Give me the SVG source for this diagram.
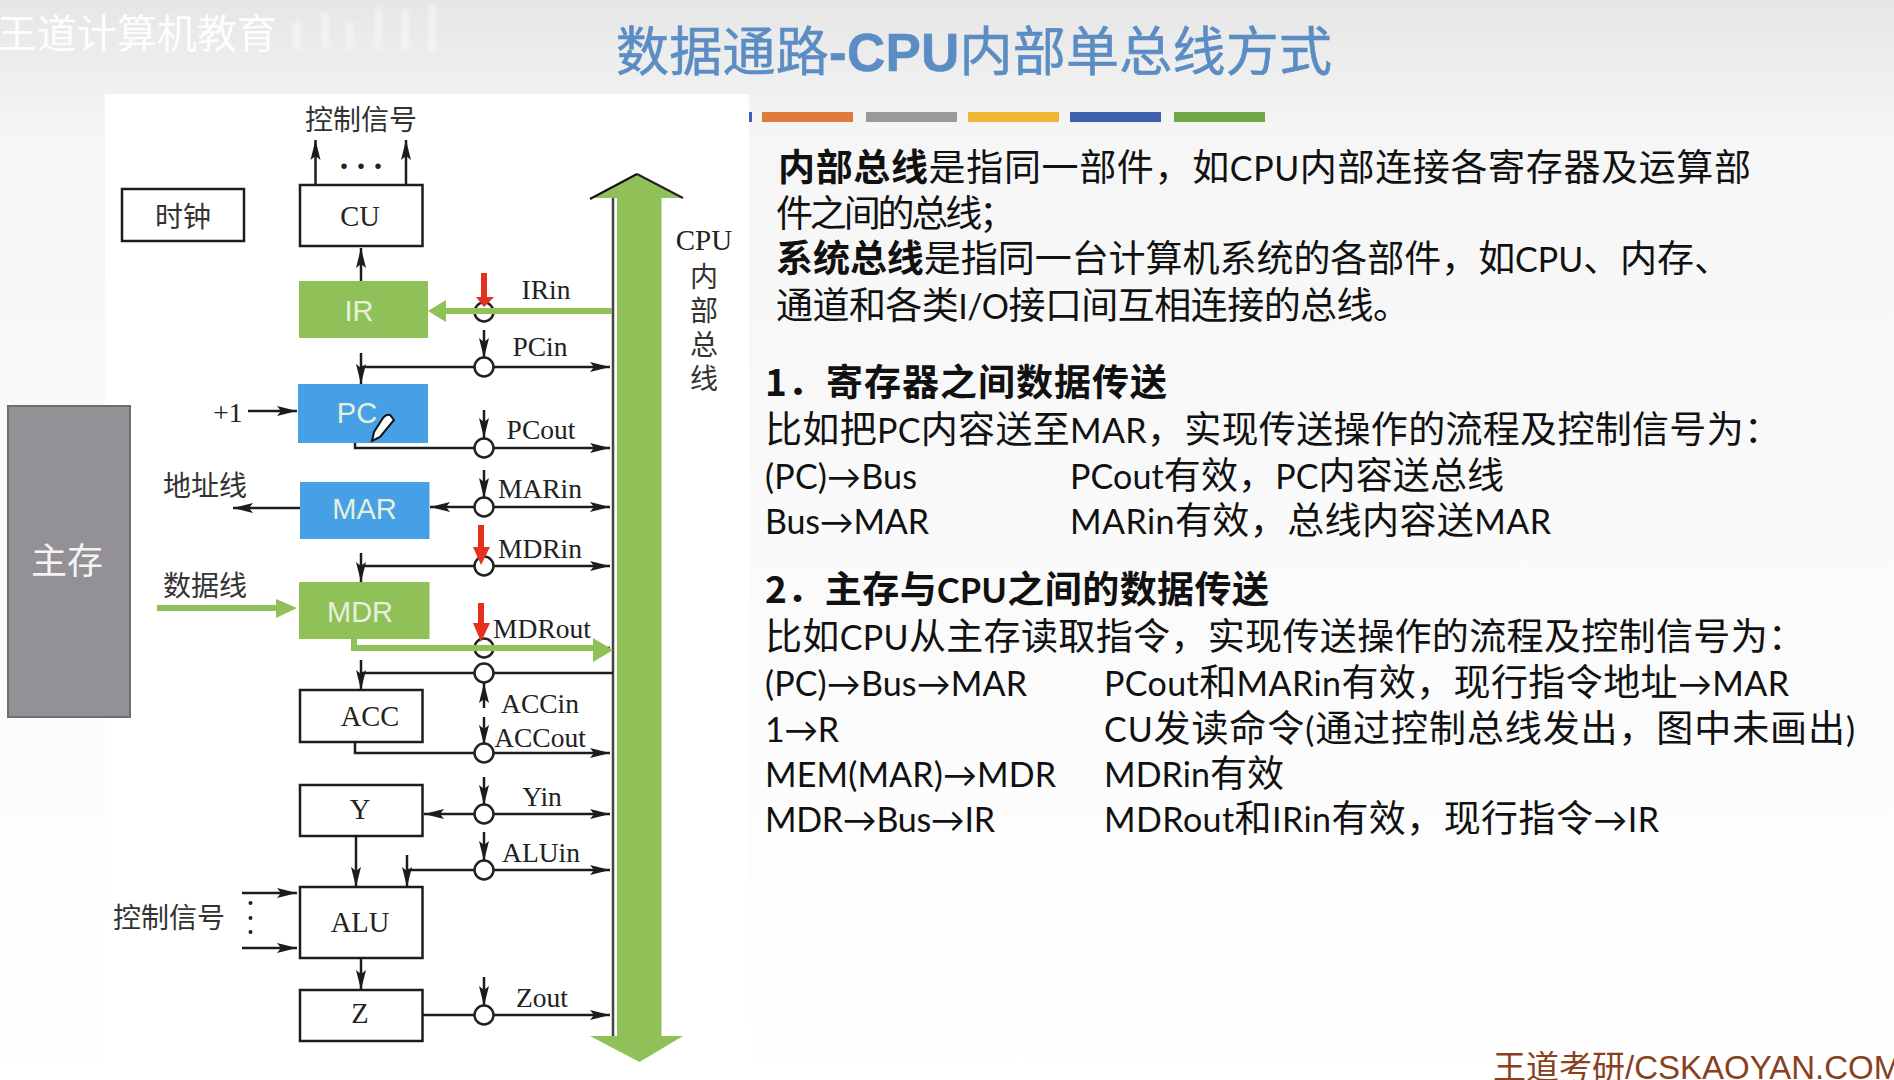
<svg xmlns="http://www.w3.org/2000/svg" width="1894" height="1080" viewBox="0 0 1894 1080">
<style>
.c{fill:none;stroke:#1c1c1c;stroke-width:2.5}
.a{fill:none;stroke:#1c1c1c;stroke-width:2.5;marker-end:url(#ah)}
.box{fill:#fff;stroke:#1c1c1c;stroke-width:2.5}
.g{fill:#8fc158}.b{fill:#45a0e6}
.o{fill:#fff;stroke:#222;stroke-width:2.5}
.s{font-family:"Liberation Serif",serif;font-size:27.5px;fill:#222;text-anchor:middle;dominant-baseline:central}
.n{font-family:"Liberation Serif",serif;font-size:28.500px;fill:#222;text-anchor:middle;dominant-baseline:central}
.z{font-family:"Noto Sans CJK SC",sans-serif;font-size:28px;fill:#333;text-anchor:middle;dominant-baseline:central}
.w{font-family:"Liberation Sans",sans-serif;font-size:29px;fill:#e6f0dc;text-anchor:middle;dominant-baseline:central}
.t{font-family:"Noto Sans CJK SC",sans-serif;font-size:37px;fill:#111}
.l{font-family:"Lato","Noto Sans CJK SC",sans-serif;font-size:34px}
.bd{font-weight:700}
</style>
<defs>
<marker id="ah" markerUnits="userSpaceOnUse" markerWidth="22" markerHeight="12" refX="20" refY="6" orient="auto"><path d="M0 1L20 6L0 11L4 6Z" fill="#1c1c1c"/></marker>
<linearGradient id="bg" x1="0" y1="0" x2="0" y2="1"><stop offset="0" stop-color="#e6e6e6"/><stop offset=".13" stop-color="#f6f6f6"/><stop offset="1" stop-color="#fff"/></linearGradient>
<filter id="bl"><feGaussianBlur stdDeviation="2"/></filter>
</defs>
<rect width="1894" height="1080" fill="url(#bg)"/>
<g id="watermark"><text x="-3" y="48" font-family="Noto Sans CJK SC,sans-serif" font-size="40" fill="#fff" opacity=".92">王道计算机教育</text>
<path d="M297 22V50M325 12V48M350 22V50M378 8V50M405 10V50M432 6V52" stroke="#fff" stroke-width="7" opacity=".45" filter="url(#bl)"/></g>
<text id="title" x="616" y="71" textLength="716" font-family="Noto Sans CJK SC,sans-serif" font-size="53" fill="#5b8dc4" stroke="#5b8dc4" stroke-width=".6">数据通路<tspan font-weight="700" font-family="Liberation Sans,sans-serif">-CPU</tspan>内部单总线方式</text>
<g id="bars"><rect x="749" y="112" width="3" height="10" fill="#3d5fae"/><rect x="762" y="112" width="91" height="10" fill="#dd7b3c"/><rect x="866" y="112" width="91" height="10" fill="#9a9a9a"/><rect x="968" y="112" width="91" height="10" fill="#efb535"/><rect x="1070" y="112" width="91" height="10" fill="#3d5fae"/><rect x="1174" y="112" width="91" height="10" fill="#6fa648"/></g>
<rect id="panel" x="105" y="94" width="644" height="986" fill="#fff"/>
<g id="memory"><rect x="8" y="406" width="122" height="311" fill="#939196" stroke="#6e6e6e" stroke-width="2"/><text x="67" y="558" font-family="Noto Sans CJK SC,sans-serif" font-size="36" fill="#f4f4f4" text-anchor="middle" dominant-baseline="central">主存</text></g>
<g id="bus">
<path d="M613 196V1037" stroke="#444" stroke-width="2.500"/>
<path d="M637 174L683 198H661.500V1036H683L639.500 1062L590 1036H617V198H590Z" fill="#8fc158"/>
<path d="M590 199L637 174" stroke="#111" stroke-width="2" fill="none"/>
<path d="M637 174L683 198" stroke="#222" stroke-width="2" fill="none"/>
<text class="s" style="font-size:29px" x="704" y="240">CPU</text><text class="z" x="704" y="275">内</text><text class="z" x="704" y="309">部</text><text class="z" x="704" y="343">总</text><text class="z" x="704" y="377">线</text>
</g>
<g id="connectors">
<path class="a" d="M315.500 185V140"/><path class="a" d="M406 185V140"/>
<path class="a" d="M361 281V248"/>
<path class="a" d="M484 367H610"/><path class="c" d="M475 367H361"/><path class="a" d="M361 353V384"/><path class="a" d="M484 330V358"/>
<path class="a" d="M248 411H297"/>
<path class="a" d="M355 443V448H610"/><path class="a" d="M484 410V438"/>
<path class="a" d="M300 508H233"/><path class="a" d="M484 507H610"/><path class="a" d="M484 507H430"/><path class="a" d="M484 470V498"/>
<path class="a" d="M484 566H610"/><path class="c" d="M475 566H361"/><path class="a" d="M361 553V582"/>
<path class="c" d="M484 648H610"/>
<path class="c" d="M361 673H613"/><path class="a" d="M361 660V690"/>
<path class="a" d="M484 708V683"/><path class="a" d="M484 717V745"/>
<path class="a" d="M355 742V753H610"/>
<path class="a" d="M484 814H610"/><path class="a" d="M484 814H424"/><path class="a" d="M484 777V805"/>
<path class="a" d="M407 870H610"/><path class="a" d="M407 855V887"/><path class="a" d="M484 832V861"/>
<path class="a" d="M356 836V887"/><path class="a" d="M361 958V990"/>
<path class="a" d="M242 893H297"/><path class="a" d="M242 948H297"/>
<path class="a" d="M422 1015H610"/><path class="a" d="M484 977V1006"/>
<path d="M157 608H276" stroke="#8fc158" stroke-width="6"/>
</g>
<g id="circles"><circle class="o" cx="484" cy="312" r="9.500"/><circle class="o" cx="484" cy="367" r="9.500"/><circle class="o" cx="484" cy="448" r="9.500"/><circle class="o" cx="484" cy="507" r="9.500"/><circle class="o" cx="484" cy="566" r="9.500"/><circle class="o" cx="484" cy="648" r="9.500"/><circle class="o" cx="484" cy="673" r="9.500"/><circle class="o" cx="484" cy="753" r="9.500"/><circle class="o" cx="484" cy="814" r="9.500"/><circle class="o" cx="484" cy="870" r="9.500"/><circle class="o" cx="484" cy="1015" r="9.500"/></g>
<g id="node-clock"><rect class="box" x="122" y="189" width="122" height="52"/><text class="z" x="183" y="215">时钟</text></g>
<g id="node-cu"><rect class="box" x="300" y="185" width="122.500" height="61"/><text class="n" x="360" y="216">CU</text></g>
<g id="node-ir"><rect class="g" x="299" y="281" width="129" height="57"/><text class="w" x="359" y="311">IR</text></g>
<g id="node-pc"><rect class="b" x="298" y="384" width="130" height="59"/><text class="w" x="357" y="413">PC</text></g>
<g id="node-mar"><rect class="b" x="300" y="482" width="129.500" height="57"/><text class="w" x="364.500" y="509">MAR</text></g>
<g id="node-mdr"><rect class="g" x="299" y="582" width="130.500" height="57"/><text class="w" x="360" y="612">MDR</text></g>
<g id="node-acc"><rect class="box" x="300" y="690" width="122.500" height="52"/><text class="n" x="370" y="716">ACC</text></g>
<g id="node-y"><rect class="box" x="300" y="785" width="122.500" height="51"/><text class="n" x="360" y="809">Y</text></g>
<g id="node-alu"><rect class="box" x="300" y="887" width="122.500" height="71"/><text class="n" x="360" y="922">ALU</text></g>
<g id="node-z"><rect class="box" x="300" y="990" width="122.500" height="51"/><text class="n" x="360" y="1013">Z</text></g>
<g id="highlights">
<path d="M612 311H445" stroke="#8fc158" stroke-width="6"/><path d="M446 300L428 311L446 322Z" fill="#8fc158"/>
<path d="M354 639V648H594" stroke="#8fc158" stroke-width="6" fill="none"/><path d="M593 638L613 650L593 662Z" fill="#8fc158"/>
<path d="M276 599L297 608L276 618Z" fill="#8fc158"/>
<path d="M481 273H487V297H494L484 307L476 297H481Z" fill="#e5301f"/>
<path d="M478 525H484V547H490L481 565L473 547H478Z" fill="#e5301f"/>
<path d="M478 603H484V623H490L481 642L473 623H478Z" fill="#e5301f"/>
<path d="M394 420L390 415Q386 414 383 418L374 432L372 441L380 437L394 420Z" fill="#fff" stroke="#111" stroke-width="2"/>
</g>
<g id="labels">
<text class="z" x="361" y="118">控制信号</text><text class="s" style="font-size:34px;font-weight:700" x="361" y="157">. . .</text>
<text class="s" x="228" y="412">+1</text><text class="z" x="205" y="484">地址线</text><text class="z" x="205" y="584">数据线</text><text class="z" x="169" y="916">控制信号</text>
<path d="M250.500 903v.1M250.500 918v.1M250.500 932v.1" stroke="#222" stroke-width="4" stroke-linecap="round"/>
<text class="s" x="546" y="289">IRin</text><text class="s" x="540" y="346">PCin</text><text class="s" x="541" y="429">PCout</text><text class="s" x="540" y="488">MARin</text><text class="s" x="540" y="548">MDRin</text><text class="s" x="542" y="628">MDRout</text><text class="s" x="540" y="703">ACCin</text><text class="s" x="540" y="737">ACCout</text><text class="s" x="542" y="796">Yin</text><text class="s" x="541" y="852">ALUin</text><text class="s" x="542" y="997">Zout</text>
</g>
<g id="text">
<text class="t" x="778" y="181" textLength="973"><tspan class="bd">内部总线</tspan>是指同一部件，如<tspan class="l">CPU</tspan>内部连接各寄存器及运算部</text>
<text class="t" x="776" y="227" textLength="240">件之间的总线；</text>
<text class="t" x="776" y="272" textLength="955"><tspan class="bd">系统总线</tspan>是指同一台计算机系统的各部件，如<tspan class="l">CPU</tspan>、内存、</text>
<text class="t" x="776" y="319" textLength="634">通道和各类<tspan class="l">I/O</tspan>接口间互相连接的总线。</text>
<text class="t bd" x="765" y="396" textLength="402">1．寄存器之间数据传送</text>
<text class="t" x="765" y="443" textLength="1016"><tspan>比如把</tspan><tspan class="l">PC</tspan>内容送至<tspan class="l">MAR</tspan>，实现传送操作的流程及控制信号为：</text>
<text class="t" x="765" y="489" textLength="152"><tspan class="l">(PC)→Bus</tspan></text><text class="t" x="1070" y="489" textLength="434"><tspan class="l">PCout</tspan>有效，<tspan class="l">PC</tspan>内容送总线</text>
<text class="t" x="765" y="534" textLength="164"><tspan class="l">Bus→MAR</tspan></text><text class="t" x="1070" y="534" textLength="481"><tspan class="l">MARin</tspan>有效，总线内容送<tspan class="l">MAR</tspan></text>
<text class="t bd" x="765" y="603" textLength="504">2．主存与<tspan class="l">CPU</tspan>之间的数据传送</text>
<text class="t" x="765" y="650" textLength="1040">比如<tspan class="l">CPU</tspan>从主存读取指令，实现传送操作的流程及控制信号为：</text>
<text class="t" x="765" y="696" textLength="262"><tspan class="l">(PC)→Bus→MAR</tspan></text><text class="t" x="1104" y="696" textLength="685"><tspan class="l">PCout</tspan>和<tspan class="l">MARin</tspan>有效，现行指令地址<tspan class="l">→MAR</tspan></text>
<text class="t" x="765" y="742" textLength="74"><tspan class="l">1→R</tspan></text><text class="t" x="1104" y="742" textLength="751"><tspan class="l">CU</tspan>发读命令<tspan class="l">(</tspan>通过控制总线发出，图中未画出<tspan class="l">)</tspan></text>
<text class="t" x="765" y="787" textLength="291"><tspan class="l">MEM(MAR)→MDR</tspan></text><text class="t" x="1104" y="787" textLength="180"><tspan class="l">MDRin</tspan>有效</text>
<text class="t" x="765" y="832" textLength="230"><tspan class="l">MDR→Bus→IR</tspan></text><text class="t" x="1104" y="832" textLength="555"><tspan class="l">MDRout</tspan>和<tspan class="l">IRin</tspan>有效，现行指令<tspan class="l">→IR</tspan></text>
</g>
<text id="footer" x="1493" y="1079" font-family="Liberation Sans,Noto Sans CJK SC,sans-serif" font-size="33" fill="#8a3f20">王道考研/CSKAOYAN.COM</text>
</svg>
